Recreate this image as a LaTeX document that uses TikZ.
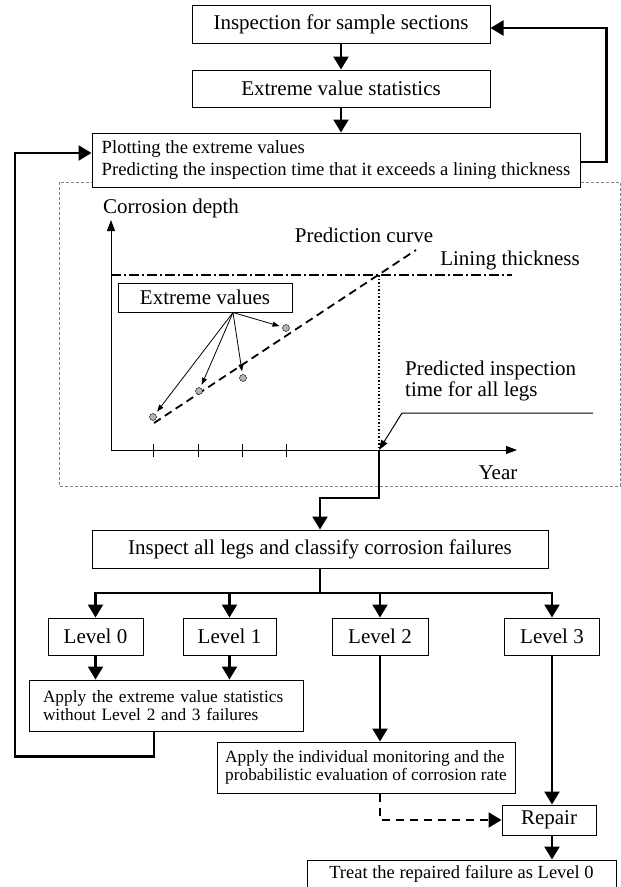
\documentclass[tikz,border=0pt]{standalone}
\usepackage{fontspec}
\setmainfont{Liberation Serif}
\usetikzlibrary{arrows.meta}

\begin{document}
\begin{tikzpicture}[x=1pt, y=-1pt,
	box/.style={draw, line width=1pt, fill=white, inner sep=0pt, font=\fontsize{21}{23}\selectfont},
	note/.style={box, align=left, font=\fontsize{17.3}{17.5}\selectfont},
	tag/.style={inner sep=0pt, font=\fontsize{21}{23}\selectfont},
	dot/.style={circle, draw, fill=gray!60, inner sep=0pt, minimum size=7pt},
	flow/.style={line width=2.4pt, -{Triangle[length=13pt,width=15pt]}},
	axisline/.style={line width=1pt, -{Triangle[length=11pt,width=8pt]}},
	fan/.style={line width=0.8pt, shorten >=3pt, -{Triangle[length=7pt,width=5pt]}}]
	\useasboundingbox (0,0) rectangle (621,887);
	\draw[gray, line width=0.8pt, dash pattern=on 3pt off 2pt] (59,182) rectangle (620,486);
	\node[box, minimum width=298pt, minimum height=38pt] (insp) at (341,24) {Inspection for sample sections};
	\node[box, minimum width=298pt, minimum height=37pt] (evs) at (341,88.5) {Extreme value statistics};
	\node[box, align=left, minimum width=488pt, minimum height=54pt, font=\fontsize{18.6}{22}\selectfont] (plot) at (336,160) {Plotting the extreme values\\Predicting the inspection time that it exceeds a lining thickness};
	\draw[flow] (insp.south) -- (insp.south |- evs.north);
	\draw[flow] (evs.south) -- (evs.south |- plot.north);
	\draw[flow] ([yshift=-2pt]plot.east) -- ++(26,0) |- ([yshift=-4pt]insp.east);

	\coordinate (o) at (111,450);
	\coordinate (cross) at (379,275);
	\coordinate (tpred) at (379,450);
	\draw[axisline] (o) -- (111,220);
	\draw[axisline] (o) -- (517,450);
	\node[tag] (depth) at (171,208) {Corrosion depth};
	\node[tag] (pcurve) at (364,235) {Prediction curve};
	\node[tag] (lining) at (510,260) {Lining thickness};
	\draw[line width=1.6pt, dash pattern=on 10pt off 3pt on 2pt off 3pt] (o |- cross) -- (512,275);
	\draw[line width=1.8pt, dash pattern=on 8pt off 5pt] (154,423) -- (416,250);
	\draw[line width=1.5pt, dotted] (cross) -- (tpred);
	\foreach \x in {153,198,242,286}
		\draw[line width=1pt] (\x,444) -- (\x,457);
	\node[box, minimum width=174pt, minimum height=29pt] (ev) at (205,297.5) {Extreme values};
	\coordinate (hub) at ([xshift=28pt]ev.south);
	\foreach \x/\y [count=\i] in {153/417, 199/391, 243/378, 286/328} {
		\node[dot] (p\i) at (\x,\y) {};
		\draw[fan] (hub) -- (p\i);
	}
	\node[tag, align=left, anchor=west, font=\fontsize{21}{21}\selectfont] (ptime) at (405,381) {Predicted inspection\\time for all legs};
	\coordinate (lead) at (593,413);
	\draw[line width=1pt, -{Triangle[length=10pt,width=7pt]}] (lead) -- (402,413) -- (tpred);
	\node[tag] (year) at (498,473) {Year};

	\node[box, minimum width=456pt, minimum height=38pt] (legs) at (320,549) {Inspect all legs and classify corrosion failures};
	\draw[flow] (tpred) -- ++(0,48) -| (legs.north);
	\node[box, minimum width=95pt, minimum height=37pt] (lv0) at (95.5,636.5) {Level 0};
	\node[box, minimum width=93pt, minimum height=37pt] (lv1) at (229.5,636.5) {Level 1};
	\node[box, minimum width=96pt, minimum height=37pt] (lv2) at (380,636.5) {Level 2};
	\node[box, minimum width=95pt, minimum height=37pt] (lv3) at (552,636.5) {Level 3};
	\draw[line width=2.4pt] (legs.south) -- ++(0,25);
	\draw[line width=2.4pt, line cap=rect] (lv0.north |- 0,593) -- (lv3.north |- 0,593);
	\foreach \n in {lv0,lv1,lv2,lv3}
		\draw[flow] (\n.north |- 0,593) -- (\n.north);

	\node[note, text width=246pt, inner xsep=14pt, minimum height=51pt] (ap1) at (166,705.5) {Apply the extreme value statistics\\without Level 2 and 3 failures};
	\draw[flow] (lv0.south) -- (lv0.south |- ap1.north);
	\draw[flow] (lv1.south) -- (lv1.south |- ap1.north);
	\draw[flow] ([xshift=-12pt]ap1.south) -- ++(0,25) -| (15,153) -- ([yshift=7pt]plot.west);
	\node[note, minimum width=298pt, minimum height=51pt] (ap2) at (366,767.5) {Apply the individual monitoring and the\\probabilistic evaluation of corrosion rate};
	\draw[flow] (lv2.south) -- (lv2.south |- ap2.north);
	\node[box, minimum width=94pt, minimum height=30pt] (rep) at (549,820) {Repair};
	\draw[flow, dash pattern=on 8pt off 6pt] (lv2.south |- ap2.south) |- (rep.west);
	\draw[flow] (lv3.south) -- (lv3.south |- rep.north);
	\node[box, minimum width=309pt, minimum height=28pt, font=\fontsize{18.5}{20}\selectfont] (treat) at (461.5,874) {Treat the repaired failure as Level 0};
	\draw[flow] (rep.south -| lv3.south) -- (lv3.south |- treat.north);
\end{tikzpicture}
\end{document}
